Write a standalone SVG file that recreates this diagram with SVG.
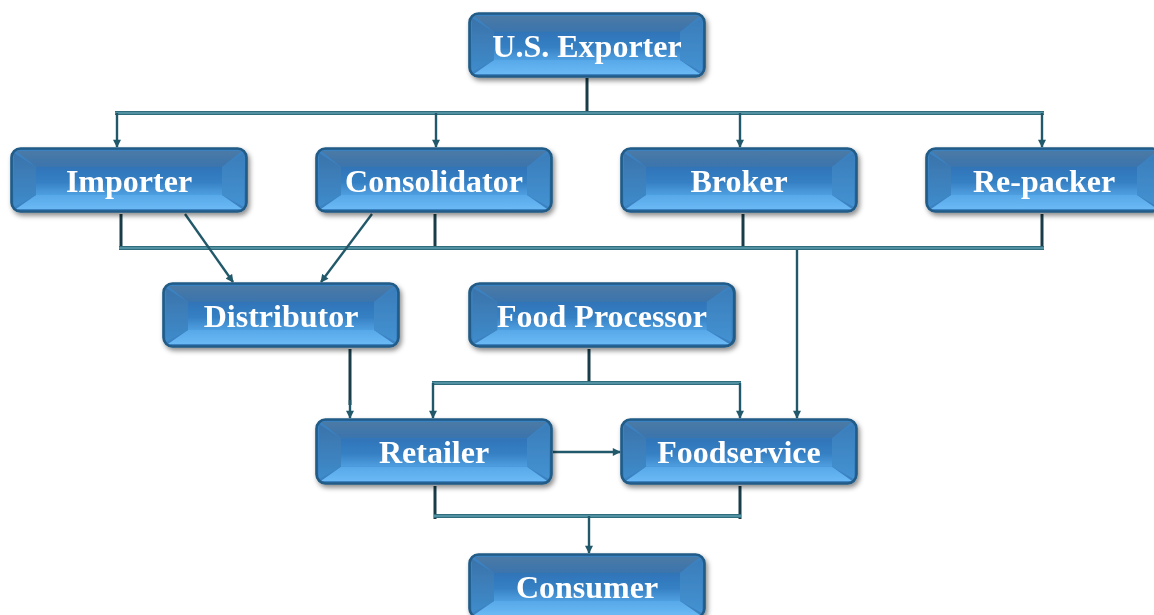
<svg xmlns="http://www.w3.org/2000/svg" xmlns:xlink="http://www.w3.org/1999/xlink" width="1154" height="615" viewBox="0 0 1154 615">
<style>
.lbl{font-family:"Liberation Serif","Times New Roman",serif;font-weight:bold;font-size:32px;fill:#ffffff;text-anchor:middle}
.bus{fill:none;stroke:#2f6c7c;stroke-width:4}
.busin{fill:none;stroke:#5f9eae;stroke-width:1.6}
.stub{fill:none;stroke:#183c48;stroke-width:3}
.arr{fill:none;stroke:#22596a;stroke-width:2.4}
</style>
<defs>
<linearGradient id="gFace" x1="0" y1="0" x2="0" y2="1">
<stop offset="0" stop-color="#2f74b8"/>
<stop offset="0.55" stop-color="#3680c4"/>
<stop offset="1" stop-color="#4f9fe0"/>
</linearGradient>
<linearGradient id="gTop" x1="0" y1="0" x2="0" y2="1">
<stop offset="0" stop-color="#4b7aa5"/>
<stop offset="1" stop-color="#3a74ad"/>
</linearGradient>
<linearGradient id="gBot" x1="0" y1="0" x2="0" y2="1">
<stop offset="0" stop-color="#57a8e8"/>
<stop offset="1" stop-color="#6ab9f5"/>
</linearGradient>
<linearGradient id="gL" x1="0" y1="0" x2="0" y2="1">
<stop offset="0" stop-color="#3a73aa"/>
<stop offset="1" stop-color="#3f8ccc"/>
</linearGradient>
<linearGradient id="gR" x1="0" y1="0" x2="0" y2="1">
<stop offset="0" stop-color="#3a7dba"/>
<stop offset="1" stop-color="#4492d2"/>
</linearGradient>
<filter id="sh" x="-10%" y="-20%" width="120%" height="150%">
<feDropShadow dx="2" dy="3" stdDeviation="2.5" flood-color="#000" flood-opacity="0.45"/>
</filter>
<symbol id="btn" viewBox="0 0 238 66" preserveAspectRatio="none">
<rect x="1" y="1" width="236" height="64" rx="9" fill="#3b82c3"/>
<polygon points="6,4 232,4 212,20 26,20" fill="url(#gTop)"/>
<polygon points="6,62 232,62 212,48 26,48" fill="url(#gBot)"/>
<polygon points="4,6 26,20 26,48 4,60" fill="url(#gL)"/>
<polygon points="234,6 212,20 212,48 234,60" fill="url(#gR)"/>
<rect x="26" y="20" width="186" height="28" fill="url(#gFace)"/>
<rect x="1.5" y="1.5" width="235" height="63" rx="9" fill="none" stroke="#205b86" stroke-width="2.6"/>
</symbol>
<marker id="ah" viewBox="0 0 10 10" refX="9" refY="5" markerWidth="9" markerHeight="8" markerUnits="userSpaceOnUse" orient="auto">
<path d="M0,0 L10,5 L0,10 Z" fill="#22596a"/>
</marker>
</defs>

<g id="connectors">
<line class="stub" x1="587" y1="78" x2="587" y2="113"/>
<line class="bus" x1="115" y1="113" x2="1044" y2="113"/>
<line class="busin" x1="115" y1="113" x2="1044" y2="113"/>
<line class="arr" x1="117" y1="113" x2="117" y2="147" marker-end="url(#ah)"/>
<line class="arr" x1="436" y1="113" x2="436" y2="147" marker-end="url(#ah)"/>
<line class="arr" x1="740" y1="113" x2="740" y2="147" marker-end="url(#ah)"/>
<line class="arr" x1="1042" y1="113" x2="1042" y2="147" marker-end="url(#ah)"/>

<line class="stub" x1="121" y1="214" x2="121" y2="250"/>
<line class="stub" x1="435" y1="214" x2="435" y2="250"/>
<line class="stub" x1="743" y1="214" x2="743" y2="250"/>
<line class="stub" x1="1042" y1="214" x2="1042" y2="250"/>
<line class="bus" x1="119" y1="248" x2="1044" y2="248"/>
<line class="busin" x1="119" y1="248" x2="1044" y2="248"/>
<line class="arr" x1="797" y1="250" x2="797" y2="418" marker-end="url(#ah)"/>

<line class="arr" x1="185" y1="214" x2="233" y2="282" marker-end="url(#ah)"/>
<line class="arr" x1="372" y1="214" x2="321" y2="282" marker-end="url(#ah)"/>

<line class="stub" x1="350" y1="349" x2="350" y2="405"/>
<line class="arr" x1="350" y1="400" x2="350" y2="418" marker-end="url(#ah)"/>

<line class="stub" x1="589" y1="349" x2="589" y2="384"/>
<line class="bus" x1="432" y1="383" x2="741" y2="383"/>
<line class="busin" x1="432" y1="383" x2="741" y2="383"/>
<line class="arr" x1="433" y1="383" x2="433" y2="418" marker-end="url(#ah)"/>
<line class="arr" x1="740" y1="383" x2="740" y2="418" marker-end="url(#ah)"/>

<line class="arr" x1="553" y1="452" x2="620" y2="452" marker-end="url(#ah)"/>

<line class="stub" x1="435" y1="486" x2="435" y2="519"/>
<line class="stub" x1="740" y1="486" x2="740" y2="519"/>
<line class="bus" x1="434" y1="516" x2="741" y2="516"/>
<line class="busin" x1="434" y1="516" x2="741" y2="516"/>
<line class="arr" x1="589" y1="516" x2="589" y2="553" marker-end="url(#ah)"/>
</g>

<g id="n-exporter" filter="url(#sh)"><use xlink:href="#btn" x="468" y="12" width="238" height="66"/><text class="lbl" x="587" y="57">U.S. Exporter</text></g>
<g id="n-importer" filter="url(#sh)"><use xlink:href="#btn" x="10" y="147" width="238" height="66"/><text class="lbl" x="129" y="192">Importer</text></g>
<g id="n-consolidator" filter="url(#sh)"><use xlink:href="#btn" x="315" y="147" width="238" height="66"/><text class="lbl" x="434" y="192">Consolidator</text></g>
<g id="n-broker" filter="url(#sh)"><use xlink:href="#btn" x="620" y="147" width="238" height="66"/><text class="lbl" x="739" y="192">Broker</text></g>
<g id="n-repacker" filter="url(#sh)"><use xlink:href="#btn" x="925" y="147" width="238" height="66"/><text class="lbl" x="1044" y="192">Re-packer</text></g>
<g id="n-distributor" filter="url(#sh)"><use xlink:href="#btn" x="162" y="282" width="238" height="66"/><text class="lbl" x="281" y="327">Distributor</text></g>
<g id="n-foodprocessor" filter="url(#sh)"><use xlink:href="#btn" x="468" y="282" width="268" height="66"/><text class="lbl" x="602" y="327">Food Processor</text></g>
<g id="n-retailer" filter="url(#sh)"><use xlink:href="#btn" x="315" y="418" width="238" height="67"/><text class="lbl" x="434" y="463">Retailer</text></g>
<g id="n-foodservice" filter="url(#sh)"><use xlink:href="#btn" x="620" y="418" width="238" height="67"/><text class="lbl" x="739" y="463">Foodservice</text></g>
<g id="n-consumer" filter="url(#sh)"><use xlink:href="#btn" x="468" y="553" width="238" height="66"/><text class="lbl" x="587" y="598">Consumer</text></g>
</svg>
